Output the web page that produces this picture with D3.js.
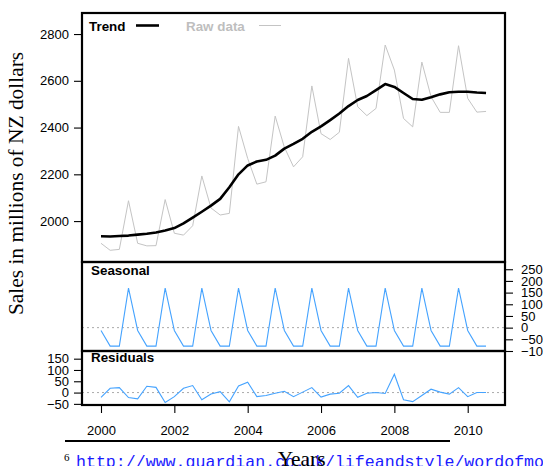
<!DOCTYPE html>
<html>
<head>
<meta charset="utf-8">
<script src="https://cdn.jsdelivr.net/npm/d3@7"></script>
<style>
  html, body { margin: 0; padding: 0; background: #fff; overflow: hidden; }
  svg { display: block; }
</style>
</head>
<body>
<svg id="chart" width="543" height="466"></svg>
<script>
// Quarterly NZ retail sales, STL decomposition (2000 Q1 - 2010 Q3)
const startYear = 2000;
const perYear = 4;

const rawData = [1905, 1875, 1879, 2087, 1905, 1894, 1895, 2092, 1948, 1940, 1980, 2193,
  2056, 2026, 2033, 2405, 2268, 2158, 2168, 2449, 2316, 2232, 2275, 2578,
  2374, 2349, 2380, 2696, 2489, 2451, 2482, 2753, 2646, 2439, 2403, 2680,
  2532, 2465, 2465, 2750, 2525, 2466, 2469];

const trend = [1935, 1934, 1936, 1938, 1942, 1946, 1951, 1960, 1970, 1990, 2015, 2040,
  2066, 2095, 2145, 2200, 2238, 2255, 2262, 2280, 2310, 2330, 2352, 2382,
  2405, 2432, 2460, 2492, 2518, 2535, 2560, 2586, 2574, 2548, 2522, 2519,
  2530, 2542, 2551, 2553, 2553, 2550, 2548];

const seasonal = [-12, -79, -79, 169, -12, -79, -79, 169, -12, -79, -79, 169,
  -12, -79, -79, 169, -12, -79, -79, 169, -12, -79, -79, 169,
  -12, -79, -79, 169, -12, -79, -79, 169, -12, -79, -79, 169,
  -12, -79, -79, 169, -12, -79, -79];

const residual = [-21, 19, 22, -22, -28, 28, 23, -44, -18, 19, 31, -32,
  -6, 4, -41, 29, 46, -18, -13, -3, 6, -18, 2, 22,
  -20, -7, -3, 31, -21, -3, 0, -4, 81, -32, -40, -13,
  15, 2, -7, 22, -18, 0, 0];

const trendTicks = [2000, 2200, 2400, 2600, 2800];
const seasonalTicks = [250, 200, 150, 100, 50, 0, -50, -100];
const residualTicks = [150, 100, 50, 0, -50];
const yearTicks = [2000, 2002, 2004, 2006, 2008, 2010];

const svg = d3.select("#chart");
const left = 82, right = 505;
const panels = {
  trend: { top: 13, bottom: 262 },
  seasonal: { top: 262, bottom: 351 },
  residual: { top: 351, bottom: 405 }
};

const x = d3.scaleLinear().domain([1999.482, 2011.017]).range([left, right]);
const yTrend = d3.scaleLinear().domain([1825, 2890]).range([panels.trend.bottom, panels.trend.top]);
const ySeas = d3.scaleLinear().domain([-100, 281]).range([panels.seasonal.bottom, panels.seasonal.top]);
const yRes = d3.scaleLinear().domain([-55, 184]).range([panels.residual.bottom, panels.residual.top]);

const t = i => startYear + i / perYear;
const sans = "'Liberation Sans', Arial, Helvetica, sans-serif";
const serif = "'Liberation Serif', 'Times New Roman', serif";
const mono = "'Liberation Mono', 'Courier New', monospace";
const blue = "#45a3ff";

// zero reference lines
[ySeas, yRes].forEach(ys => {
  svg.append("line")
    .attr("x1", left).attr("x2", right)
    .attr("y1", ys(0)).attr("y2", ys(0))
    .attr("stroke", "#aaaaaa").attr("stroke-width", 1)
    .attr("stroke-dasharray", "2,3");
});

// series
const lineOf = (ys) => d3.line().x((d, i) => x(t(i))).y(d => ys(d));

svg.append("path").datum(rawData)
  .attr("d", lineOf(yTrend))
  .attr("fill", "none").attr("stroke", "#c4c4c4").attr("stroke-width", 1);

svg.append("path").datum(trend)
  .attr("d", lineOf(yTrend))
  .attr("fill", "none").attr("stroke", "#000").attr("stroke-width", 2.6)
  .attr("stroke-linejoin", "round");

svg.append("path").datum(seasonal)
  .attr("d", lineOf(ySeas))
  .attr("fill", "none").attr("stroke", blue).attr("stroke-width", 1.1);

svg.append("path").datum(residual)
  .attr("d", lineOf(yRes))
  .attr("fill", "none").attr("stroke", blue).attr("stroke-width", 1.1);

// panel frames
Object.values(panels).forEach(p => {
  svg.append("rect")
    .attr("x", left).attr("y", p.top)
    .attr("width", right - left).attr("height", p.bottom - p.top)
    .attr("fill", "none").attr("stroke", "#000").attr("stroke-width", 2.2);
});

// axes
function styleAxis(g) {
  g.select(".domain").remove();
  g.selectAll(".tick line").attr("stroke", "#000").attr("stroke-width", 1.1);
  g.selectAll(".tick text").attr("fill", "#000")
    .attr("font-family", sans).attr("font-size", 13);
}

svg.append("g").attr("transform", `translate(${left - 1},0)`)
  .call(d3.axisLeft(yTrend).tickValues(trendTicks).tickSize(7).tickPadding(5).tickFormat(d3.format("d")))
  .call(styleAxis);

svg.append("g").attr("transform", `translate(${left - 1},0)`)
  .call(d3.axisLeft(yRes).tickValues(residualTicks).tickSize(7).tickPadding(5).tickFormat(d3.format("d")))
  .call(styleAxis);

svg.append("g").attr("transform", `translate(${right + 1},0)`)
  .call(d3.axisRight(ySeas).tickValues(seasonalTicks).tickSize(7).tickPadding(8).tickFormat(d3.format("d")))
  .call(styleAxis);

svg.append("g").attr("transform", `translate(0,${panels.residual.bottom + 1})`)
  .call(d3.axisBottom(x).tickValues(yearTicks).tickSize(7).tickPadding(13).tickFormat(d3.format("d")))
  .call(styleAxis);

// panel labels and legend
const bold = (txt, px, py, fill) => svg.append("text")
  .attr("x", px).attr("y", py).text(txt)
  .attr("font-family", sans).attr("font-weight", "bold").attr("font-size", 13.4)
  .attr("fill", fill);

bold("Trend", 89, 31, "#000");
svg.append("line").attr("x1", 136).attr("x2", 159).attr("y1", 25.5).attr("y2", 25.5)
  .attr("stroke", "#000").attr("stroke-width", 2.6);
bold("Raw data", 186, 31, "#bebebe");
svg.append("line").attr("x1", 259).attr("x2", 281).attr("y1", 25.5).attr("y2", 25.5)
  .attr("stroke", "#c4c4c4").attr("stroke-width", 1);
bold("Seasonal", 91, 275, "#000");
bold("Residuals", 91, 362, "#000");

// axis titles
svg.append("text")
  .attr("transform", "translate(23,183.5) rotate(-90)")
  .attr("text-anchor", "middle")
  .attr("font-family", serif).attr("font-size", 21.4)
  .text("Sales in millions of NZ dollars");

// footnote rule and link on the page beneath the figure
svg.append("line").attr("x1", 65).attr("x2", 450).attr("y1", 441).attr("y2", 441)
  .attr("stroke", "#000").attr("stroke-width", 2);

svg.append("text")
  .attr("x", 64).attr("y", 461)
  .attr("font-family", serif).attr("font-size", 11).attr("fill", "#000")
  .text("6");

svg.append("text")
  .attr("x", 76).attr("y", 467)
  .attr("font-family", mono).attr("font-size", 16.6).attr("fill", "#1a1aff")
  .text("http://www.guardian.co.uk/lifeandstyle/wordofmouth");

svg.append("text")
  .attr("x", 301.7).attr("y", 466)
  .attr("text-anchor", "middle")
  .attr("font-family", serif).attr("font-size", 21.4)
  .text("Years");
</script>
</body>
</html>
